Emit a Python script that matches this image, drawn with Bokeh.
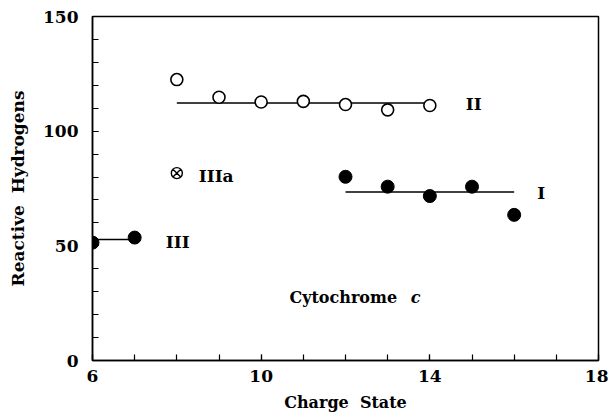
from bokeh.plotting import figure
from bokeh.models import FixedTicker, Label, Range1d
from bokeh.embed import file_html
from bokeh.resources import INLINE

# Series II (open circles)
ii_x = [8, 9, 10, 11, 12, 13, 14]
ii_y = [122.5, 114.8, 112.7, 113.0, 111.6, 109.3, 111.2]
ii_level = 112.3
ii_span = [8, 14]

# Series I (filled circles)
i_x = [12, 13, 14, 15, 16]
i_y = [80.1, 75.8, 71.7, 75.8, 63.5]
i_level = 73.5
i_span = [12, 16]

# Series III (filled circles)
iii_x = [6, 7]
iii_y = [51.4, 53.6]
iii_level = 52.8
iii_span = [6, 7]

# Series IIIa (crossed circle)
iiia_x = [8]
iiia_y = [81.7]

x_major = [6, 10, 14, 18]
x_minor = list(range(6, 19))
y_major = [0, 50, 100, 150]
y_minor = list(range(0, 151, 10))

FONT = "DejaVu Serif"

p = figure(width=608, height=416, output_backend="svg", toolbar_location=None,
           x_range=Range1d(6, 18), y_range=Range1d(0, 150),
           min_border_left=92, min_border_right=10, min_border_top=16, min_border_bottom=56)
p.background_fill_color = None
p.border_fill_color = "white"
p.grid.visible = False
p.outline_line_color = "black"
p.outline_line_width = 1.5

for ax in (p.xaxis[0], p.yaxis[0]):
    ax.axis_line_width = 1.5
    ax.major_tick_in = 6
    ax.major_tick_out = 0
    ax.minor_tick_in = 6
    ax.minor_tick_out = 0
    ax.major_tick_line_width = 1.2
    ax.minor_tick_line_width = 1.2
    ax.major_tick_line_color = "black"
    ax.minor_tick_line_color = "black"
    ax.major_label_text_font = FONT
    ax.major_label_text_font_style = "bold"
    ax.major_label_text_font_size = "17px"
    ax.major_label_text_color = "black"
    ax.axis_label_text_font = FONT
    ax.axis_label_text_font_style = "bold"
    ax.axis_label_text_font_size = "16px"
    ax.axis_label_text_color = "black"

p.xaxis[0].ticker = FixedTicker(ticks=x_major, minor_ticks=x_minor)
p.yaxis[0].ticker = FixedTicker(ticks=y_major, minor_ticks=y_minor)
p.xaxis[0].axis_label = "Charge\u00a0\u00a0State"
p.yaxis[0].axis_label = "Reactive\u00a0\u00a0Hydrogens"
p.yaxis[0].axis_label_text_font_size = "17px"
p.xaxis[0].major_label_standoff = 9
p.yaxis[0].major_label_standoff = 14
p.xaxis[0].axis_label_standoff = 8
p.yaxis[0].axis_label_standoff = 12

# fitted level lines
p.line(ii_span, [ii_level, ii_level], line_color="black", line_width=1.5)
p.line(i_span, [i_level, i_level], line_color="black", line_width=1.5)
p.line(iii_span, [iii_level, iii_level], line_color="black", line_width=1.5)

p.scatter(ii_x, ii_y, marker="circle", size=12, fill_color="white",
          line_color="black", line_width=1.6)
p.scatter(i_x, i_y, marker="circle", size=13, fill_color="black", line_color="black")
p.scatter(iii_x, iii_y, marker="circle", size=13, fill_color="black", line_color="black")
p.scatter(iiia_x, iiia_y, marker="circle_x", size=11, fill_color="white",
          line_color="black", line_width=1.4)

labels = [("II", 14.85, 111.7), ("I", 16.55, 73.0), ("IIIa", 8.52, 80.4),
          ("III", 7.74, 51.7)]
for txt, lx, ly in labels:
    p.add_layout(Label(x=lx, y=ly, text=txt, text_font=FONT, text_font_size="17px",
                       text_font_style="bold", text_baseline="middle", text_align="left",
                       text_color="black"))
p.add_layout(Label(x=10.67, y=27.4, text="Cytochrome", text_font=FONT,
                   text_font_style="bold",
                   text_font_size="16px", text_baseline="middle", text_align="left",
                   text_color="black"))
p.add_layout(Label(x=13.55, y=27.4, text="c", text_font=FONT, text_font_style="bold italic",
                   text_font_size="16px", text_baseline="middle", text_align="left",
                   text_color="black"))

open("out.html", "w").write(file_html(p, INLINE))
